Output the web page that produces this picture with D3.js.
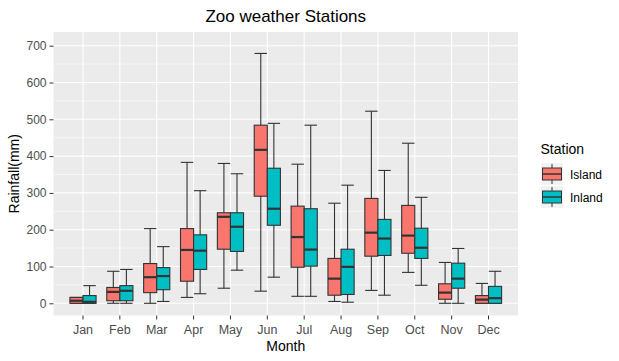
<!DOCTYPE html>
<html><head><meta charset="utf-8">
<script src="https://cdn.jsdelivr.net/npm/d3@7"></script>
<style>body{margin:0;background:#fff;} text{font-family:"Liberation Sans",Arial,sans-serif;}</style>
</head><body>
<svg id="chart" width="619" height="361"></svg>
<script>
const months = ["Jan","Feb","Mar","Apr","May","Jun","Jul","Aug","Sep","Oct","Nov","Dec"];
const stations = ["Island","Inland"];
const colors = ["#F8766D","#00BFC4"];
const yTicks = [0,100,200,300,400,500,600,700];
// [lower whisker, Q1, median, Q3, upper whisker]
const island = [
  [0,0,7,16,16],[0,7,31,43,87],[0,29,71,108,203],[16,60,145,203,383],
  [41,147,235,246,380],[33,291,417,484,679],[19,98,180,264,378],[5,22,67,122,272],
  [35,128,192,285,522],[84,136,184,266,435],[0,11,29,53,111],[0,0,10,21,54]
];
const inland = [
  [0,0,4,21,48],[0,7,34,48,92],[5,37,74,97,154],[26,92,143,186,306],
  [90,141,208,246,352],[71,212,257,367,489],[19,101,146,257,484],[3,24,99,147,321],
  [22,130,176,228,361],[49,122,151,204,288],[0,41,67,109,149],[0,0,14,46,87]
];

const svg = d3.select("#chart");
const m = {l:53.5, r:518, t:32, b:315.5};
const x = d3.scaleBand().domain(months).range([m.l, m.r]).paddingOuter(0.3).paddingInner(0);
const y = d3.scaleLinear().domain([0,700]).range([303.3,45.7]);

svg.append("rect").attr("x",m.l).attr("y",m.t).attr("width",m.r-m.l).attr("height",m.b-m.t).attr("fill","#EBEBEB");
const g = svg.append("g");
d3.range(50,700,100).forEach(v=>{
  g.append("line").attr("x1",m.l).attr("x2",m.r).attr("y1",y(v)).attr("y2",y(v)).attr("stroke","#fff").attr("stroke-width",0.55);
});
yTicks.forEach(v=>{
  g.append("line").attr("x1",m.l).attr("x2",m.r).attr("y1",y(v)).attr("y2",y(v)).attr("stroke","#fff").attr("stroke-width",1.1);
});
months.forEach(mo=>{
  const cx = x(mo)+x.bandwidth()/2;
  g.append("line").attr("x1",cx).attr("x2",cx).attr("y1",m.t).attr("y2",m.b).attr("stroke","#fff").attr("stroke-width",1.1);
});

const bw = x.bandwidth()*0.355;
const sub = d3.scaleBand().domain(stations).range([0, bw*2]);
[island, inland].forEach((data, si)=>{
  data.forEach((d, i)=>{
    const x0 = x(months[i]) + x.bandwidth()/2 - bw + sub(stations[si]);
    const cx = x0 + bw/2;
    const gg = g.append("g");
    gg.append("line").attr("x1",cx).attr("x2",cx).attr("y1",y(d[0])).attr("y2",y(d[4])).attr("stroke","#333").attr("stroke-width",1.1);
    const cw = bw*0.95;
    [d[0],d[4]].forEach(v=>gg.append("line").attr("x1",cx-cw/2).attr("x2",cx+cw/2).attr("y1",y(v)).attr("y2",y(v)).attr("stroke","#333").attr("stroke-width",1.1));
    gg.append("rect").attr("x",x0).attr("y",y(d[3])).attr("width",bw).attr("height",Math.max(0,y(d[1])-y(d[3])))
      .attr("fill",colors[si]).attr("stroke","#333").attr("stroke-width",1.1);
    gg.append("line").attr("x1",x0).attr("x2",x0+bw).attr("y1",y(d[2])).attr("y2",y(d[2])).attr("stroke","#333").attr("stroke-width",2.2);
  });
});

const yAxis = d3.axisLeft(y).tickValues(yTicks).tickSize(4).tickPadding(3);
const ya = svg.append("g").attr("transform",`translate(${m.l},0)`).call(yAxis);
ya.select(".domain").remove();
ya.selectAll("line").attr("stroke","#333");
ya.selectAll("text").attr("fill","#4D4D4D").style("font-size","12px").style("font-family","Liberation Sans, Arial, sans-serif");
const xAxis = d3.axisBottom(x).tickSize(4).tickPadding(6);
const xa = svg.append("g").attr("transform",`translate(0,${m.b})`).call(xAxis);
xa.select(".domain").remove();
xa.selectAll("line").attr("stroke","#333");
xa.selectAll("text").attr("fill","#4D4D4D").style("font-size","12.5px").style("font-family","Liberation Sans, Arial, sans-serif");

const cxp = (m.l+m.r)/2;
svg.append("text").attr("x",cxp).attr("y",22).attr("text-anchor","middle").style("font-size","17px").attr("fill","#000").text("Zoo weather Stations");
svg.append("text").attr("x",cxp).attr("y",351).attr("text-anchor","middle").style("font-size","14px").attr("fill","#000").text("Month");
svg.append("text").attr("transform",`translate(19,${(m.t+m.b)/2}) rotate(-90)`).attr("text-anchor","middle").style("font-size","14px").attr("fill","#000").text("Rainfall(mm)");

const lg = svg.append("g");
lg.append("text").attr("x",540.5).attr("y",154).style("font-size","14px").attr("fill","#000").text("Station");
stations.forEach((s,i)=>{
  const ky = 163 + i*23;
  lg.append("rect").attr("x",541).attr("y",ky).attr("width",22).attr("height",22).attr("fill","#F2F2F2");
  lg.append("line").attr("x1",552).attr("x2",552).attr("y1",ky+1).attr("y2",ky+21).attr("stroke","#333").attr("stroke-width",1);
  lg.append("rect").attr("x",542.5).attr("y",ky+5).attr("width",19).attr("height",12).attr("fill",colors[i]).attr("stroke","#333").attr("stroke-width",1);
  lg.append("line").attr("x1",542.5).attr("x2",561.5).attr("y1",ky+11).attr("y2",ky+11).attr("stroke","#333").attr("stroke-width",1.5);
  lg.append("text").attr("x",570).attr("y",ky+16).style("font-size","12px").attr("fill","#000").text(s);
});
</script>
</body></html>
